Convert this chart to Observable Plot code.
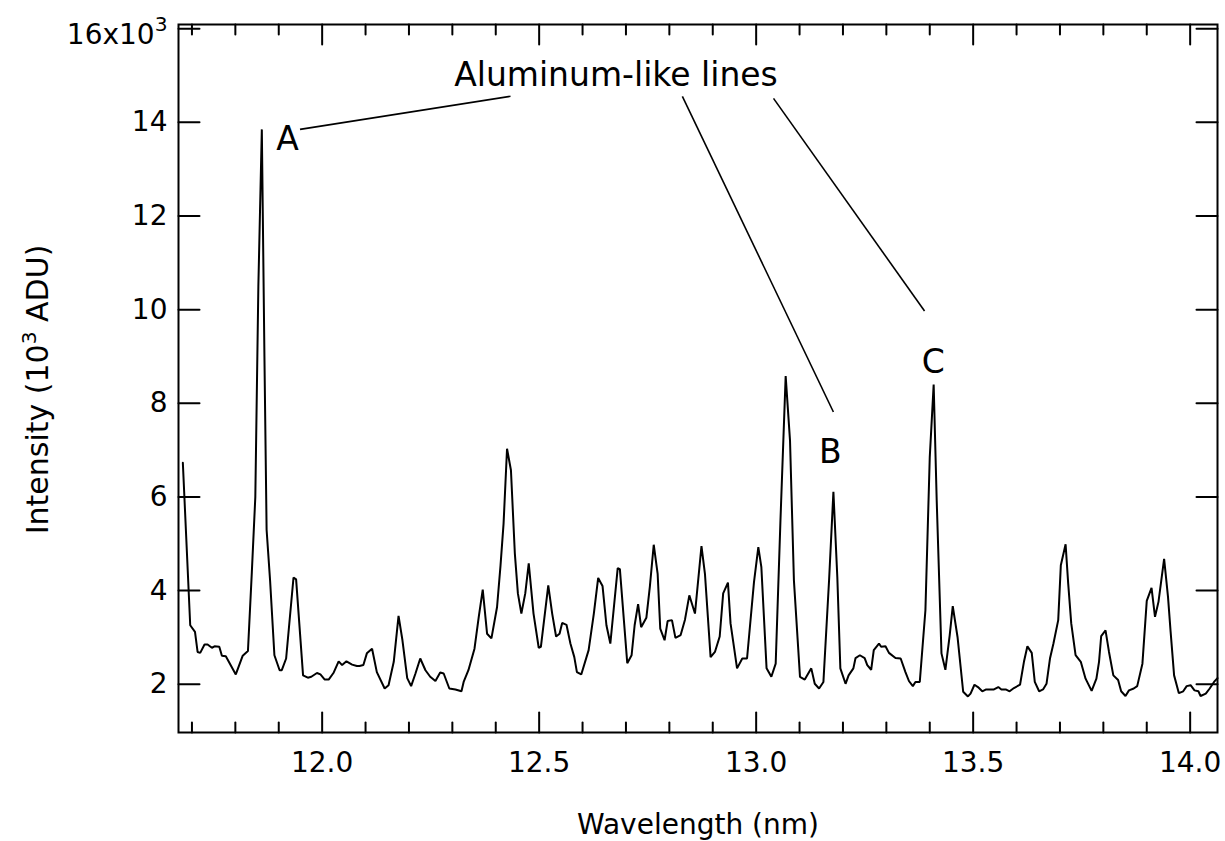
<!DOCTYPE html>
<html>
<head>
<meta charset="utf-8">
<script src="https://cdn.jsdelivr.net/npm/d3@7"></script>
<script src="https://cdn.jsdelivr.net/npm/@observablehq/plot@0.6"></script>
<style>
  html, body { margin: 0; padding: 0; background: #fff; }
  #chart svg { display: block; }
</style>
</head>
<body>
<div id="chart"></div>
<script>
// Spectrum: wavelength (nm) and intensity (10^3 ADU)
const wavelength = [11.679,11.696,11.707,11.713,11.719,11.729,11.736,11.746,11.752,11.763,11.769,11.778,11.801,11.817,11.829,11.838,11.846,11.853,11.861,11.867,11.872,11.880,11.890,11.902,11.907,11.917,11.934,11.940,11.956,11.967,11.975,11.988,11.996,12.006,12.015,12.026,12.038,12.046,12.056,12.069,12.080,12.086,12.095,12.103,12.115,12.126,12.144,12.153,12.165,12.176,12.185,12.196,12.205,12.215,12.226,12.238,12.249,12.261,12.272,12.280,12.293,12.307,12.321,12.326,12.337,12.351,12.361,12.370,12.380,12.390,12.403,12.411,12.418,12.426,12.435,12.444,12.451,12.459,12.468,12.476,12.487,12.499,12.504,12.521,12.530,12.539,12.547,12.553,12.563,12.572,12.581,12.587,12.597,12.614,12.626,12.636,12.646,12.655,12.664,12.681,12.686,12.703,12.713,12.720,12.728,12.735,12.747,12.755,12.764,12.773,12.779,12.789,12.796,12.806,12.814,12.826,12.836,12.846,12.859,12.874,12.882,12.895,12.905,12.916,12.924,12.935,12.941,12.956,12.968,12.979,12.995,13.005,13.012,13.024,13.035,13.045,13.056,13.068,13.078,13.087,13.101,13.112,13.127,13.135,13.145,13.155,13.168,13.178,13.187,13.194,13.206,13.213,13.224,13.229,13.239,13.250,13.256,13.265,13.271,13.283,13.288,13.298,13.306,13.321,13.333,13.344,13.352,13.361,13.367,13.377,13.390,13.400,13.409,13.416,13.427,13.436,13.446,13.453,13.464,13.477,13.488,13.494,13.503,13.511,13.521,13.530,13.548,13.558,13.565,13.575,13.584,13.594,13.608,13.617,13.625,13.635,13.642,13.652,13.661,13.669,13.677,13.685,13.696,13.702,13.713,13.719,13.726,13.736,13.748,13.759,13.773,13.784,13.790,13.795,13.805,13.813,13.823,13.834,13.841,13.851,13.859,13.870,13.878,13.890,13.900,13.911,13.919,13.927,13.940,13.949,13.955,13.963,13.974,13.984,13.992,14.001,14.010,14.019,14.024,14.036,14.045,14.055,14.063];
const intensity = [6.73,3.26,3.12,2.69,2.67,2.85,2.85,2.78,2.81,2.80,2.61,2.60,2.21,2.61,2.71,4.40,6.00,10.5,13.85,9.0,5.3,4.22,2.62,2.30,2.30,2.55,4.28,4.24,2.19,2.14,2.16,2.24,2.21,2.10,2.10,2.24,2.49,2.41,2.49,2.42,2.39,2.39,2.41,2.66,2.76,2.26,1.91,1.98,2.48,3.46,2.94,2.13,1.96,2.23,2.55,2.30,2.16,2.07,2.25,2.23,1.91,1.89,1.85,2.05,2.30,2.76,3.45,4.02,3.08,2.98,3.65,4.54,5.43,7.03,6.57,4.79,3.94,3.51,3.94,4.58,3.51,2.78,2.80,4.11,3.51,3.02,3.08,3.31,3.27,2.87,2.58,2.26,2.21,2.73,3.51,4.27,4.10,3.26,2.87,4.48,4.46,2.45,2.62,3.26,3.71,3.22,3.42,4.08,4.98,4.36,3.19,2.94,3.35,3.37,2.99,3.05,3.38,3.90,3.51,4.95,4.36,2.58,2.69,3.02,3.94,4.17,3.30,2.34,2.55,2.55,4.18,4.93,4.50,2.34,2.16,2.44,5.50,8.58,7.21,4.22,2.16,2.10,2.34,2.01,1.91,2.05,4.22,6.11,4.29,2.34,2.01,2.19,2.34,2.56,2.62,2.56,2.41,2.31,2.73,2.87,2.80,2.81,2.67,2.56,2.55,2.26,2.07,1.96,2.05,2.05,3.58,6.85,8.40,5.93,2.66,2.31,3.05,3.67,3.01,1.84,1.74,1.80,1.99,1.94,1.85,1.89,1.89,1.94,1.89,1.89,1.85,1.92,1.99,2.48,2.81,2.67,2.05,1.85,1.89,2.01,2.55,2.87,3.37,4.54,4.99,4.15,3.30,2.62,2.48,2.12,1.86,2.12,2.48,3.03,3.15,2.69,2.19,2.09,1.85,1.75,1.87,1.91,1.96,2.44,3.78,4.06,3.44,3.76,4.68,3.86,3.12,2.19,1.81,1.85,1.96,1.98,1.87,1.85,1.75,1.80,1.91,2.05,2.13];

// Axis ranges and ticks
const xDomain = [11.669, 14.063];
const yDomain = [0.97, 16.09];
const xMajorTicks = [12.0, 12.5, 13.0, 13.5, 14.0];
const xMinorTicks = [11.7, 11.8, 11.9, 12.1, 12.2, 12.3, 12.4, 12.6, 12.7, 12.8, 12.9, 13.1, 13.2, 13.3, 13.4, 13.6, 13.7, 13.8, 13.9];
const xTickLabels = ["12.0", "12.5", "13.0", "13.5", "14.0"];
const yTicks = [2, 4, 6, 8, 10, 12, 14, 16];
const yTickLabels = ["2", "4", "6", "8", "10", "12", "14", "16x10³"];

// Annotations
const annoText = ["Aluminum-like lines", "A", "B", "C"];
const annoX = [12.677, 11.920, 13.171, 13.408];
const annoY = [14.78, 13.40, 6.72, 8.64];
const leaderX1 = [11.949, 12.830, 13.040];
const leaderY1 = [13.85, 14.556, 14.513];
const leaderX2 = [12.434, 13.178, 13.388];
const leaderY2 = [14.556, 7.815, 9.971];

const spectrum = wavelength.map((w, i) => ({w, v: intensity[i]}));
const annos = annoText.map((t, i) => ({t, x: annoX[i], y: annoY[i]}));
const leaders = leaderX1.map((x1, i) => ({x1, y1: leaderY1[i], x2: leaderX2[i], y2: leaderY2[i]}));

// inward tick: a straight segment starting at the axis, drawn "up" then rotated
const tickShape = {draw(context, l) { context.moveTo(0, 0); context.lineTo(0, -l); }};
const tk = {anchor: "start", shape: tickShape, stroke: "black", strokeWidth: 2};

const chart = Plot.plot({
  width: 1225,
  height: 841,
  marginLeft: 178,
  marginRight: 8,
  marginTop: 24,
  marginBottom: 109,
  style: {fontFamily: "DejaVu Sans", fontSize: "28px", color: "black", background: "white"},
  x: {domain: xDomain},
  y: {domain: yDomain},
  marks: [
    // inward ticks on all four sides
    Plot.vector(xMajorTicks, {x: d => d, y: () => yDomain[0], length: 20, rotate: 0, ...tk}),
    Plot.vector(xMinorTicks, {x: d => d, y: () => yDomain[0], length: 10, rotate: 0, ...tk}),
    Plot.vector(xMajorTicks, {x: d => d, y: () => yDomain[1], length: 20, rotate: 180, ...tk}),
    Plot.vector(xMinorTicks, {x: d => d, y: () => yDomain[1], length: 10, rotate: 180, ...tk}),
    Plot.vector(yTicks, {x: () => xDomain[0], y: d => d, length: 21, rotate: 90, ...tk}),
    Plot.vector(yTicks, {x: () => xDomain[1], y: d => d, length: 21, rotate: 270, ...tk}),
    // tick labels
    Plot.axisX(xMajorTicks, {anchor: "bottom", tickSize: 0, tickPadding: 20, label: null,
      tickFormat: d => xTickLabels[xMajorTicks.indexOf(d)]}),
    Plot.axisY(yTicks.slice(0, -1), {anchor: "left", tickSize: 0, tickPadding: 11, label: null,
      tickFormat: d => yTickLabels[yTicks.indexOf(d)]}),
    Plot.axisY(yTicks.slice(-1), {anchor: "left", tickSize: 0, tickPadding: 11, label: null, dy: 6,
      tickFormat: d => yTickLabels[yTicks.indexOf(d)]}),
    // axis titles
    Plot.text(["Wavelength (nm)"], {frameAnchor: "bottom", dy: 101, lineAnchor: "bottom", text: d => d, fontSize: 28}),
    Plot.text(["Intensity (10³ ADU)"], {frameAnchor: "left", rotate: -90, dx: -140, dy: 11, lineAnchor: "middle", textAnchor: "middle", text: d => d, fontSize: 30}),
    // frame
    Plot.frame({stroke: "black", strokeWidth: 2}),
    // data
    Plot.line(spectrum, {x: "w", y: "v", stroke: "black", strokeWidth: 2, strokeLinejoin: "miter"}),
    // annotations
    Plot.link(leaders, {x1: "x1", y1: "y1", x2: "x2", y2: "y2", stroke: "black", strokeWidth: 1.6}),
    Plot.text(annos, {x: "x", y: "y", text: "t", fontSize: 33, lineAnchor: "bottom", textAnchor: "middle"})
  ]
});

// render "³" as a larger raised superscript digit (still real text)
chart.querySelectorAll("text").forEach(el => {
  const s = el.textContent;
  const i = s.indexOf("³");
  if (i < 0 || el.children.length) return;
  const fs = parseFloat(getComputedStyle(el).fontSize) || 28;
  const NS = "http://www.w3.org/2000/svg";
  el.textContent = "";
  el.appendChild(document.createTextNode(s.slice(0, i)));
  const sup = document.createElementNS(NS, "tspan");
  sup.setAttribute("dy", (-0.44 * fs).toFixed(1));
  sup.setAttribute("font-size", (0.72 * fs).toFixed(1));
  sup.textContent = "3";
  el.appendChild(sup);
  const rest = s.slice(i + 1);
  if (rest) {
    const r = document.createElementNS(NS, "tspan");
    r.setAttribute("dy", (0.44 * fs).toFixed(1));
    r.textContent = rest;
    el.appendChild(r);
  }
});
document.getElementById("chart").appendChild(chart);
</script>
</body>
</html>
